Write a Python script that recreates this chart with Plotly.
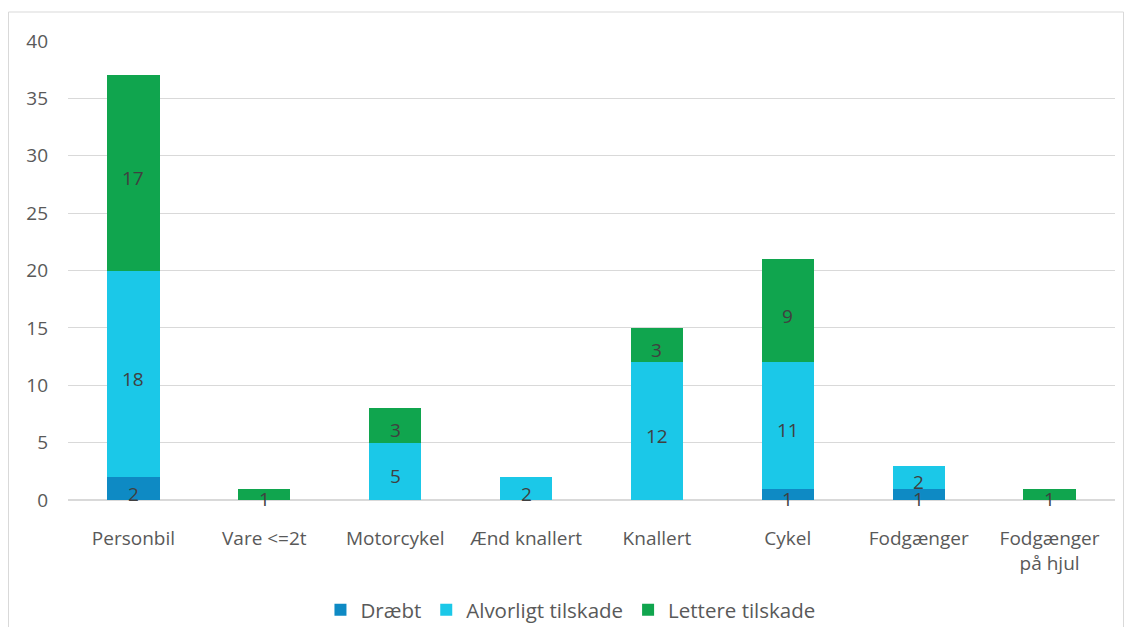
import plotly.graph_objects as go

categories = ["Personbil", "Vare <=2t", "Motorcykel", "Ænd knallert", "Knallert", "Cykel", "Fodgænger", "Fodgænger<br>på hjul"]
draebt = [2, 0, 0, 0, 0, 1, 1, 0]
alvorligt = [18, 0, 5, 2, 12, 11, 2, 0]
lettere = [17, 1, 3, 0, 3, 9, 0, 1]

series = [
    ("Dræbt", draebt, "#0E8AC4"),
    ("Alvorligt tilskade", alvorligt, "#1BC8E8"),
    ("Lettere tilskade", lettere, "#10A54E"),
]

FONT = "'Open Sans', 'Segoe UI', sans-serif"
fig = go.Figure()
base = [0] * len(categories)
for name, vals, col in series:
    fig.add_trace(go.Bar(x=categories, y=vals, name=name, marker=dict(color=col, line=dict(width=0))))
    for i, v in enumerate(vals):
        if v > 0:
            fig.add_annotation(x=categories[i], y=base[i] + v / 2, text=str(v), showarrow=False,
                               yshift=-5, font=dict(family=FONT, size=19, color="#404040"))
    base = [b + v for b, v in zip(base, vals)]

W, H = 1116, 619
L, R, T, B = 60, 9, 33, 127
pw = W - L - R
ph = H - T - B
fig.add_shape(type="rect", xref="paper", yref="paper",
              x0=(0.5 - L) / pw, x1=(W - 0.5 - L) / pw,
              y0=((H - B) - (H + 10)) / ph, y1=((H - B) - 4) / ph,
              line=dict(color="#D9D9D9", width=1), fillcolor="rgba(0,0,0,0)", layer="below")

fig.update_layout(
    width=W, height=H, barmode="stack", bargap=0.6,
    margin=dict(l=L, r=R, t=T, b=B),
    paper_bgcolor="white", plot_bgcolor="white",
    font=dict(family=FONT, size=19, color="#595959"),
    legend=dict(orientation="h", xref="container", x=0.504, xanchor="center",
                yref="container", y=(H - 602) / H, yanchor="middle",
                font=dict(size=20.5, color="#595959"), traceorder="normal"),
    xaxis=dict(showgrid=False, showline=False, ticks="", ticklabelstandoff=25, automargin=False,
               tickfont=dict(size=19, color="#595959")),
    yaxis=dict(range=[0, 40], dtick=5, showgrid=True, gridcolor="#D9D9D9", gridwidth=1,
               zeroline=True, zerolinecolor="#D9D9D9", zerolinewidth=1.5, automargin=False,
               ticks="", ticklabelstandoff=19, tickfont=dict(size=19, color="#595959")),
)

fig.write_html("out.html")
